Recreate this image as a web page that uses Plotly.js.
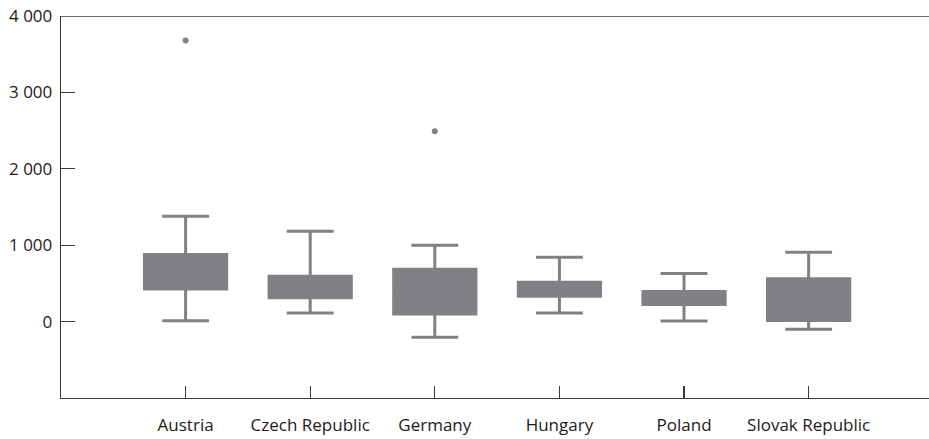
<!DOCTYPE html>
<html>
<head>
<meta charset="utf-8">
<script src="https://cdn.plot.ly/plotly-3.0.1.min.js"></script>
<style>html,body{margin:0;padding:0;background:#fff;}#chart{width:929px;height:439px;}</style>
</head>
<body>
<div id="chart"></div>
<script>
const countries = ["Austria", "Czech Republic", "Germany", "Hungary", "Poland", "Slovak Republic"];
const lowerWhisker = [10, 114, -206, 114, 9, -101];
const q1 = [428, 311, 101, 332, 223, 13];
const median = [650, 450, 400, 420, 300, 300];
const q3 = [878, 594, 686, 515, 393, 560];
const upperWhisker = [1380, 1183, 1000, 843, 629, 908];
const outlierCountries = ["Austria", "Germany"];
const outlierValues = [3679, 2490];
const yTickVals = [0, 1000, 2000, 3000, 4000];
const yTickText = ["0", "1 000", "2 000", "3 000", "4 000"];

const grey = "#808184";

const traces = [
  {
    type: "box",
    x: countries,
    q1: q1,
    median: median,
    q3: q3,
    lowerfence: lowerWhisker,
    upperfence: upperWhisker,
    fillcolor: grey,
    line: {color: grey, width: 3},
    whiskerwidth: 0.57,
    boxpoints: false,
    hoverinfo: "skip",
    showlegend: false
  },
  {
    type: "scatter",
    mode: "markers",
    x: outlierCountries,
    y: outlierValues,
    marker: {color: grey, size: 6},
    showlegend: false,
    hoverinfo: "skip"
  }
];

const layout = {
  width: 929,
  height: 439,
  margin: {l: 61, r: 0, t: 16, b: 41},
  paper_bgcolor: "#fff",
  plot_bgcolor: "#fff",
  showlegend: false,
  boxgap: 0.34,
  boxgroupgap: 0,
  font: {family: "Open Sans, Noto Sans, sans-serif", size: 17, color: "#1e1a1b"},
  xaxis: {
    type: "category",
    categoryorder: "array",
    categoryarray: countries,
    range: [-1, 5.966],
    showgrid: false,
    zeroline: false,
    showline: true,
    linecolor: "#3a3a3a",
    linewidth: 1.3,
    ticks: "inside",
    ticklen: 12,
    tickwidth: 1.3,
    tickcolor: "#3a3a3a",
    ticklabelstandoff: 11,
    tickfont: {size: 17, color: "#1e1a1b", weight: 500}
  },
  yaxis: {
    range: [-1000, 4000],
    tickmode: "array",
    tickvals: yTickVals,
    ticktext: yTickText,
    showgrid: false,
    zeroline: false,
    showline: true,
    linecolor: "#3a3a3a",
    linewidth: 1.3,
    ticks: "inside",
    ticklen: 14,
    tickwidth: 1.3,
    tickcolor: "#3a3a3a",
    ticklabelstandoff: 4,
    tickfont: {size: 17, color: "#1e1a1b", weight: 500}
  },
  shapes: [
    {type: "line", xref: "paper", yref: "y", x0: 0, x1: 1, y0: 4000, y1: 4000,
     line: {color: "#6a6a6a", width: 2.2}}
  ]
};

Plotly.newPlot("chart", traces, layout, {displayModeBar: false, staticPlot: true});
</script>
</body>
</html>
